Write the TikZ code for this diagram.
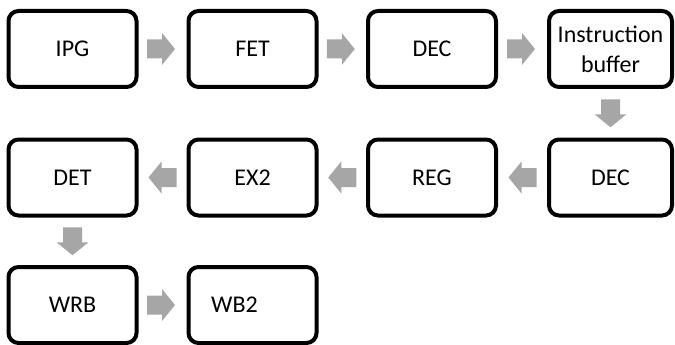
\documentclass[tikz,border=0pt]{standalone}
\usepackage{fontspec}
\setmainfont{Carlito}
\usetikzlibrary{calc}
\definecolor{arrowgray}{HTML}{A6A6A6}
\tikzset{
  x=1pt, y=1pt,
  stage/.style={draw=black, line width=4pt, rounded corners=10pt, fill=white,
    minimum width=128pt, minimum height=76pt, inner sep=0pt,
    align=center, font=\fontsize{24}{30}\selectfont},
  blockarrow/.pic={
    \fill[arrowgray] (-14,-9.5) -- (1,-9.5) -- (1,-16) -- (14,0) -- (1,16) -- (1,9.5) -- (-14,9.5) -- cycle;
  }
}
\begin{document}
\begin{tikzpicture}
\useasboundingbox (0,0) rectangle (675,-345);
% first row
\node[stage] (ipg) at (72.5,-49) {IPG};
\node[stage] (fet) at (252.5,-49) {FET};
\node[stage] (dec1) at (432,-49) {DEC};
\node[stage, minimum width=123pt] (ib) at (610.5,-49) {Instruction\\buffer};
% second row
\node[stage] (det) at (72.5,-177.5) {DET};
\node[stage] (ex2) at (252.5,-177.5) {EX2};
\node[stage] (reg) at (432,-177.5) {REG};
\node[stage, minimum width=123pt] (dec2) at (610.5,-177.5) {DEC};
% third row
\node[stage] (wrb) at (72.5,-305) {WRB};
\node[stage] (wb2) at (252.5,-305) {};
\node[font=\fontsize{24}{30}\selectfont] at ($(wb2.center)+(-18,0)$) {WB2};
% block arrows between stages
\pic[xshift=-1.5pt] at ($(ipg.east)!0.5!(fet.west)$) {blockarrow};
\pic[xshift=-1.5pt] at ($(fet.east)!0.5!(dec1.west)$) {blockarrow};
\pic[xshift=-1.5pt] at ($(dec1.east)!0.5!(ib.west)$) {blockarrow};
\pic[rotate=-90] at ($(ib.south)!0.5!(dec2.north)$) {blockarrow};
\pic[rotate=180] at ($(dec2.west)!0.5!(reg.east)$) {blockarrow};
\pic[rotate=180] at ($(reg.west)!0.5!(ex2.east)$) {blockarrow};
\pic[rotate=180] at ($(ex2.west)!0.5!(det.east)$) {blockarrow};
\pic[rotate=-90] at ($(det.south)!0.5!(wrb.north)$) {blockarrow};
\pic[xshift=-1.5pt] at ($(wrb.east)!0.5!(wb2.west)$) {blockarrow};
\end{tikzpicture}
\end{document}
